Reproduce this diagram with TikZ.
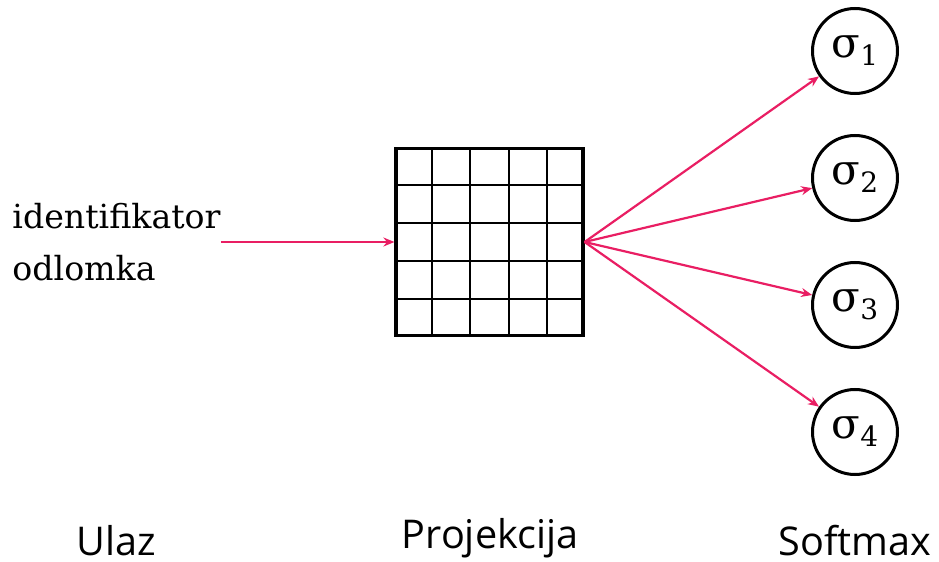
\documentclass[tikz,border=0pt]{standalone}
\usepackage{fontspec}
\setmainfont{DejaVu Serif}
\newfontfamily\capfont{Open Sans}
\usetikzlibrary{positioning}
\usetikzlibrary{arrows.meta}
\usetikzlibrary{calc}
\definecolor{edgepink}{RGB}{233,30,99}
\newcommand{\sig}[1]{{\fontsize{21}{21}\selectfont σ}\raisebox{-4pt}{\fontsize{14}{14}\selectfont #1}}
\tikzstyle{soft} = [circle,draw=black,line width=1.5pt,inner sep=0pt,minimum size=42.5pt]
\tikzstyle{proj} = [rectangle,draw=black,line width=1.6pt,inner sep=0pt,minimum size=93.5pt]
\tikzstyle{layer} = [font=\capfont\fontsize{19.8}{19.8}\selectfont, anchor=base]
\tikzstyle{edge} = [draw=edgepink, line width=1.1pt, -{Stealth[length=5.5pt,width=4.5pt]}]

\begin{document}
\begin{tikzpicture}[x=0.5pt, y=-0.5pt, node distance=19.5pt]
\useasboundingbox (0,0) rectangle (939,562);

% Define nodes
\node[proj]                                    (p)  at (489.5,242) {};
\node[align=left, inner sep=0pt, anchor=west,
      font=\fontsize{16.6}{26}\selectfont]     (id) at (12,242) {identifikator\\odlomka};
\node[soft]                                    (s1) at (855,51) {\sig{1}};
\node[soft, below = of s1]                     (s2) {\sig{2}};
\node[soft, below = of s2]                     (s3) {\sig{3}};
\node[soft, below = of s3]                     (s4) {\sig{4}};

% Grid of the projection
\foreach \k in {1,...,4} {
  \draw[line width=1pt] ($(p.south west)!\k/5!(p.south east)$) -- ($(p.north west)!\k/5!(p.north east)$);
  \draw[line width=1pt] ($(p.south west)!\k/5!(p.north west)$) -- ($(p.south east)!\k/5!(p.north east)$);
}

% Layer names
\node[layer] (ulaz)  at (116,555) {Ulaz};
\node[layer] (pname) at (490,548) {Projekcija};
\node[layer] (sname) at (855,555) {Softmax};

% Edges
\draw[edge] (id.east) -- (p.west);
\foreach \s in {s1,s2,s3,s4}
  \draw[edge] (p.east) -- (\s);

\end{tikzpicture}
\end{document}
